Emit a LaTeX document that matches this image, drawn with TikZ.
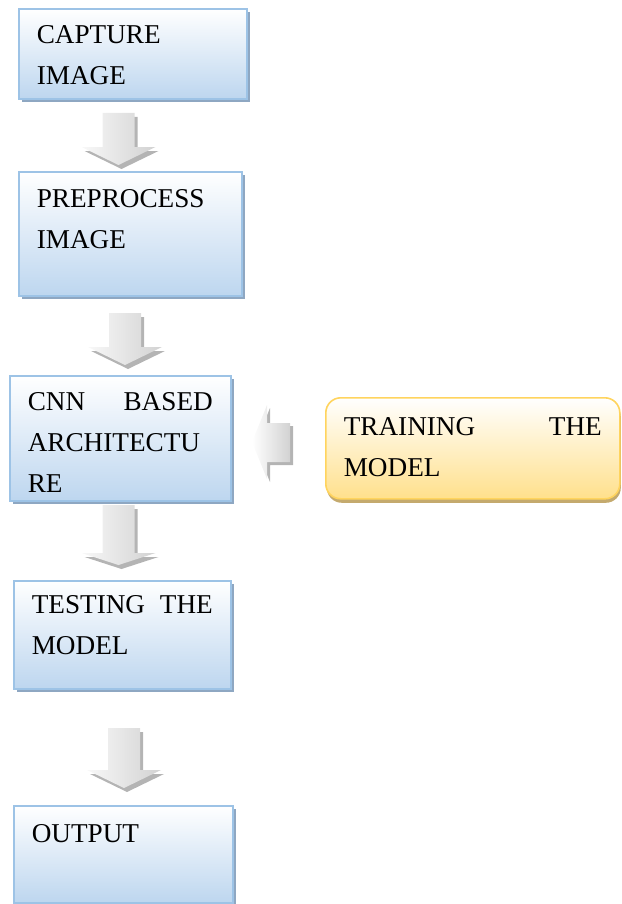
\documentclass[tikz,border=0pt]{standalone}
\usepackage{fontspec}
\setmainfont{Liberation Serif}
\usetikzlibrary{shadows}

% colours of the boxes and the block arrows
\definecolor{boxline}{HTML}{9DC3E6}
\definecolor{boxbottom}{HTML}{BDD6EF}
\definecolor{boxshadow}{HTML}{8EA7C2}
\definecolor{trainline}{HTML}{FFD45E}
\definecolor{trainbottom}{HTML}{FFE08C}
\definecolor{trainshadow}{HTML}{C4AA6E}
\definecolor{arrowlight}{HTML}{F8F8F8}
\definecolor{arrowdark}{HTML}{D2D2D2}
\definecolor{arrowshadow}{HTML}{B4B4B4}

\tikzset{
    stage/.style={draw=boxline, line width=0.8pt,
        top color=white, bottom color=boxbottom,
        general shadow={fill=boxshadow, shadow xshift=1.75pt, shadow yshift=-1.75pt},
        anchor=north west, inner xsep=9pt, inner ysep=0pt, align=left,
        font=\fontsize{13.6pt}{20.5pt}\selectfont},
    trainbox/.style={draw=trainline, line width=0.8pt, rounded corners=7.5pt,
        top color=white, bottom color=trainbottom,
        general shadow={fill=trainshadow, shadow xshift=0.5pt, shadow yshift=-2pt},
        anchor=north west, inner xsep=9pt, inner ysep=0pt, align=left,
        font=\fontsize{13.6pt}{20.5pt}\selectfont},
    % down block arrow: length / where the head starts
    pics/dnarrow/.style args={#1/#2}{code={
        \fill[arrowshadow, shift={(3,4)}]
            (-16,0) -- (16,0) -- (16,#2) -- (37,#2) -- (0,#1)
            -- (-37,#2) -- (-16,#2) -- cycle;
        \shade[left color=arrowlight, right color=arrowdark]
            (-16,0) -- (16,0) -- (16,#2) -- (37,#2) -- (0,#1)
            -- (-37,#2) -- (-16,#2) -- cycle;
    }},
    % left block arrow, tip at the origin
    pics/lfarrow/.style={code={
        \fill[arrowshadow, shift={(3,3)}]
            (0,0) -- (15,-37) -- (15,-19) -- (38,-19) -- (38,20)
            -- (15,20) -- (15,37) -- cycle;
        \shade[left color=white, right color=arrowdark]
            (0,0) -- (15,-37) -- (15,-19) -- (38,-19) -- (38,20)
            -- (15,20) -- (15,37) -- cycle;
    }},
}

\begin{document}
\begin{tikzpicture}[x=0.5pt, y=-0.5pt]
    \useasboundingbox (0,0) rectangle (621,904);

    % Stages
    \node[stage, text width=96pt, text height=17.5pt, text depth=27.5pt]
        (capture) at (18,8) {CAPTURE\\IMAGE};
    \node[stage, text width=93.5pt, text height=18pt, text depth=44pt]
        (prep) at (18,171) {PREPROCESS\\IMAGE};
    \node[stage, text width=92.5pt, text height=17.5pt, text depth=45pt]
        (cnn) at (9,375) {CNN\hfill BASED\\ARCHITECTU\\RE};
    \node[trainbox, text width=129pt, text height=19pt, text depth=31.5pt]
        (train) at (325,397) {TRAINING\hfill THE\\MODEL};
    \node[stage, text width=90.5pt, text height=16.5pt, text depth=37.5pt]
        (test) at (13,580) {TESTING\hfill THE\\MODEL};
    \node[stage, text width=91.5pt, text height=18.5pt, text depth=30pt]
        (out) at (13,805) {OUTPUT};

    % Block arrows
    \pic (a1) at (118.5,113) {dnarrow=52/34};
    \pic (a2) at (125,313) {dnarrow=52/34};
    \pic (a3) at (118.5,505) {dnarrow=60/48};
    \pic (a4) at (124,728) {dnarrow=60/42};
    \pic (a5) at (252,442) {lfarrow};
\end{tikzpicture}
\end{document}
